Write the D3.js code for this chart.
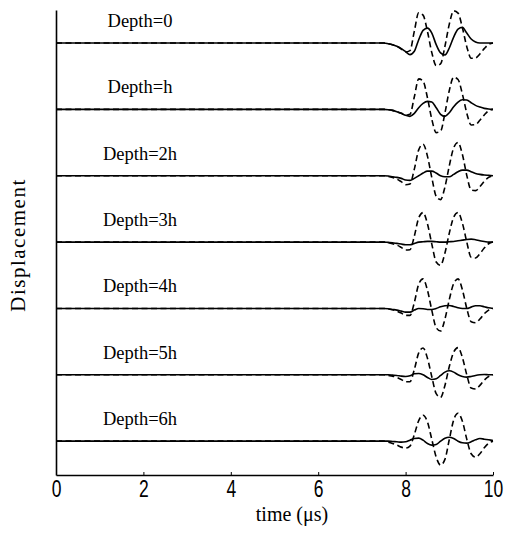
<!DOCTYPE html>
<html><head><meta charset="utf-8">
<script src="https://cdn.jsdelivr.net/npm/d3@7"></script>
<style>body{margin:0;background:#fff}</style>
</head><body><svg id="c" width="511" height="533"></svg>
<script>
const depthLabels = ["Depth=0","Depth=h","Depth=2h","Depth=3h","Depth=4h","Depth=5h","Depth=6h"];
const xTicks = [0,2,4,6,8,10];
const timeGrid = [0, 7.5, 7.6, 7.7, 7.8, 7.9, 8.0, 8.1, 8.2, 8.3, 8.4, 8.5, 8.6, 8.7, 8.8, 8.9, 9.0, 9.1, 9.2, 9.3, 9.4, 9.5, 9.6, 9.7, 9.8, 9.9, 10.0];

const dashed0 = [0, 0, -0.02, -0.05, -0.1, -0.18, -0.27, -0.23, 0.36, 0.91, 0.84, 0.35, -0.29, -0.68, -0.63, -0.1, 0.57, 0.97, 0.9, 0.46, -0.11, -0.46, -0.45, -0.33, -0.17, -0.04, 0];
const dashed1 = [0, 0, -0.01, -0.03, -0.07, -0.12, -0.18, -0.15, 0.38, 0.92, 0.85, 0.35, -0.3, -0.7, -0.66, -0.11, 0.57, 0.97, 0.9, 0.46, -0.11, -0.47, -0.46, -0.33, -0.17, -0.04, 0];
const dashed2 = [0, 0, -0.02, -0.05, -0.1, -0.18, -0.27, -0.25, 0.2, 0.78, 0.95, 0.59, -0.06, -0.62, -0.72, -0.34, 0.3, 0.84, 1.0, 0.64, 0.01, -0.43, -0.45, -0.33, -0.17, -0.05, 0];
const dashed3 = [0, 0, -0.02, -0.05, -0.09, -0.16, -0.24, -0.23, 0.18, 0.73, 0.89, 0.55, -0.06, -0.6, -0.7, -0.33, 0.27, 0.75, 0.89, 0.57, 0.0, -0.46, -0.48, -0.35, -0.18, -0.05, 0];
const dashed4 = [0, 0, -0.02, -0.04, -0.08, -0.14, -0.21, -0.21, 0.18, 0.73, 0.89, 0.55, -0.06, -0.58, -0.68, -0.32, 0.27, 0.75, 0.89, 0.56, 0.0, -0.4, -0.43, -0.32, -0.16, -0.05, 0];
const dashed5 = [0, 0, -0.02, -0.04, -0.08, -0.14, -0.21, -0.21, 0.16, 0.66, 0.81, 0.5, -0.06, -0.57, -0.68, -0.32, 0.25, 0.68, 0.82, 0.52, 0.0, -0.4, -0.43, -0.32, -0.16, -0.05, 0];
const dashed6 = [0, 0, -0.03, -0.07, -0.12, -0.18, -0.21, -0.15, 0.2, 0.62, 0.78, 0.58, 0.05, -0.48, -0.72, -0.55, 0.05, 0.64, 0.84, 0.6, 0.06, -0.38, -0.48, -0.38, -0.2, -0.06, 0];

const solid0 = [0, 0, -0.02, -0.05, -0.1, -0.17, -0.26, -0.35, -0.25, 0.1, 0.38, 0.45, 0.3, -0.05, -0.3, -0.36, -0.15, 0.18, 0.42, 0.47, 0.3, 0.12, 0.03, 0, 0, 0, 0];
const solid1 = [0, 0, -0.01, -0.03, -0.07, -0.12, -0.18, -0.21, -0.12, 0.05, 0.18, 0.24, 0.22, 0.05, -0.15, -0.21, -0.1, 0.08, 0.22, 0.29, 0.28, 0.2, 0.12, 0.07, 0.03, 0.01, 0];
const solid2 = [0, 0, -0.01, -0.03, -0.05, -0.08, -0.13, -0.14, -0.08, 0, 0.08, 0.14, 0.14, 0.08, 0, -0.03, -0.03, 0.04, 0.12, 0.17, 0.17, 0.12, 0.07, 0.04, 0.02, 0.01, 0];
const solid3 = [0, 0, -0.01, -0.02, -0.04, -0.06, -0.08, -0.08, -0.04, 0, 0.01, 0.02, 0.02, 0.01, 0, 0, 0.01, 0.02, 0.04, 0.06, 0.08, 0.09, 0.07, 0.04, 0.02, 0, 0];
const solid4 = [0, 0, -0.01, -0.03, -0.05, -0.08, -0.11, -0.11, -0.05, 0, -0.01, -0.03, -0.03, 0, 0.05, 0.08, 0.09, 0.06, 0.02, 0, 0, 0.04, 0.08, 0.08, 0.05, 0.02, 0];
const solid5 = [0, 0, 0, -0.01, -0.02, -0.04, -0.05, -0.03, 0.03, 0.04, 0, -0.08, -0.14, -0.12, -0.02, 0.08, 0.12, 0.08, 0, -0.05, -0.07, -0.05, -0.02, 0, 0.01, 0, 0];
const solid6 = [0, 0, 0, -0.01, -0.02, -0.03, -0.02, 0.03, 0.08, 0.09, 0.03, -0.07, -0.12, -0.1, 0, 0.09, 0.12, 0.08, 0, -0.05, -0.06, -0.02, 0.04, 0.08, 0.06, 0.04, 0.02];

const dashedSeries = [dashed0, dashed1, dashed2, dashed3, dashed4, dashed5, dashed6];
const solidSeries = [solid0, solid1, solid2, solid3, solid4, solid5, solid6];
const rowStep = 2; // displacement units between stacked traces

const svg = d3.select("#c");
const x = d3.scaleLinear().domain([0, 10]).range([56, 493]);
const y = d3.scaleLinear().domain([-13.02, 0.995]).range([475, 10]);

const line = (vals, i) => d3.line()
  .x((d, k) => x(timeGrid[k]))
  .y(d => y(d - rowStep * i))
  .curve(d3.curveMonotoneX)(vals);

const g = svg.append("g");
dashedSeries.forEach((s, i) => {
  g.append("path").attr("d", line(s, i)).attr("fill", "none")
    .attr("stroke", "#000").attr("stroke-width", 1.6).attr("stroke-dasharray", "6,3.5");
});
solidSeries.forEach((s, i) => {
  g.append("path").attr("d", line(s, i)).attr("fill", "none")
    .attr("stroke", "#000").attr("stroke-width", 1.6);
});

depthLabels.forEach((lab, i) => {
  svg.append("text").attr("x", 140).attr("y", y(-rowStep * i) - 16)
    .attr("text-anchor", "middle")
    .style("font-family", "'Liberation Serif','Times New Roman',serif")
    .style("font-size", "18.5px").text(lab);
});

const ax = svg.append("g").attr("transform", `translate(0,${y.range()[0]})`)
  .call(d3.axisBottom(x).tickValues(xTicks).tickSize(-3).tickSizeOuter(0).tickPadding(6));
ax.select(".domain").attr("stroke-width", 1.6);
ax.selectAll("text")
  .style("font-family", "'Liberation Sans',sans-serif")
  .style("font-size", "23px").attr("fill", "#000")
  .attr("transform", "scale(0.76,1)");

const ay = svg.append("g").attr("transform", `translate(${x.range()[0]},0)`)
  .call(d3.axisLeft(y).tickValues([]).tickSizeOuter(0));
ay.select(".domain").attr("stroke-width", 1.6);

svg.append("text").attr("x", 292).attr("y", 521).attr("text-anchor", "middle")
  .style("font-family", "'Liberation Serif','Times New Roman',serif")
  .style("font-size", "20px").text("time (\u03bcs)");

svg.append("text").attr("transform", "translate(25,245) rotate(-90)").attr("text-anchor", "middle")
  .style("font-family", "'Liberation Serif','Times New Roman',serif")
  .style("font-size", "21px").style("letter-spacing", "1.5px").text("Displacement");
</script></body></html>
